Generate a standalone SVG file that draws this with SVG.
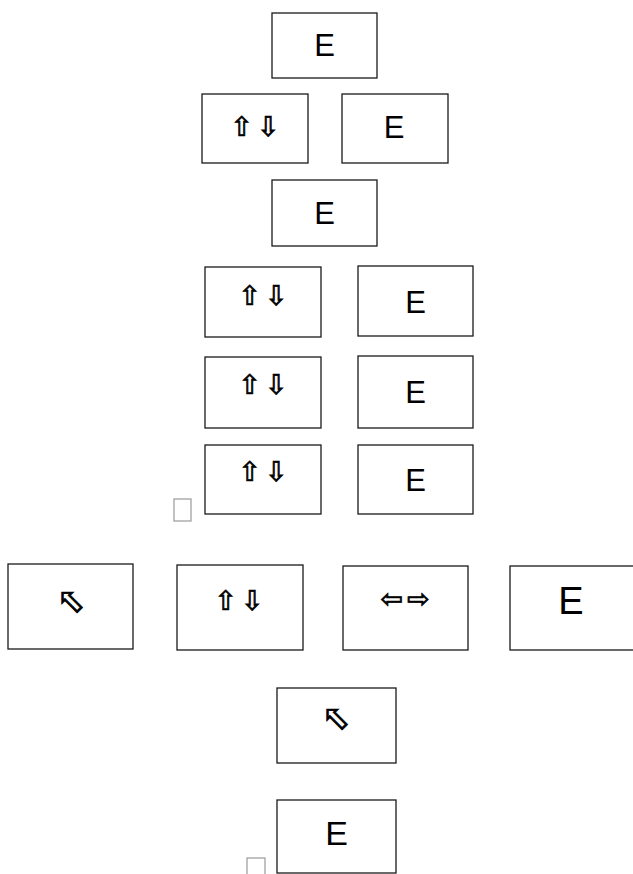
<svg xmlns="http://www.w3.org/2000/svg" width="633" height="874" viewBox="0 0 633 874">
<style>
.b{fill:#fff;stroke:#1a1a1a;stroke-width:1.3}
.e{font-family:"Liberation Sans",Arial,sans-serif;fill:#000;text-anchor:middle}
.a{font-family:"DejaVu Sans",sans-serif;fill:#000;stroke:#000;stroke-width:0.7;text-anchor:middle;font-size:27px;letter-spacing:4px}
.c{font-family:"DejaVu Sans",sans-serif;fill:#000;stroke:#000;stroke-width:0.8;text-anchor:middle;font-size:34px}
.s{fill:#fff;stroke:#999;stroke-width:1.2}
</style>
<rect width="633" height="874" fill="#fff"/>
<g id="n1"><rect class="b" x="272" y="13" width="105" height="65"/><text class="e" x="324.5" y="56" font-size="31">E</text></g>
<g id="n2"><rect class="b" x="202" y="94" width="106" height="69"/><text class="a" x="257" y="136">⇧⇩</text></g>
<g id="n3"><rect class="b" x="342" y="94" width="106" height="69"/><text class="e" x="394" y="138" font-size="31">E</text></g>
<g id="n4"><rect class="b" x="272" y="180" width="105" height="66"/><text class="e" x="324.5" y="224" font-size="31">E</text></g>
<g id="n5"><rect class="b" x="205" y="267" width="116" height="70"/><text class="a" x="265" y="305">⇧⇩</text></g>
<g id="n6"><rect class="b" x="358" y="266" width="115" height="70"/><text class="e" x="415.5" y="313" font-size="31">E</text></g>
<g id="n7"><rect class="b" x="205" y="357" width="116" height="71"/><text class="a" x="265" y="394">⇧⇩</text></g>
<g id="n8"><rect class="b" x="358" y="356" width="115" height="72"/><text class="e" x="415.5" y="403" font-size="31">E</text></g>
<g id="n9"><rect class="b" x="205" y="445" width="116" height="69"/><text class="a" x="265" y="481">⇧⇩</text></g>
<g id="n10"><rect class="b" x="358" y="445" width="115" height="69"/><text class="e" x="415.5" y="491" font-size="31">E</text></g>
<rect class="s" x="174" y="499" width="17" height="22"/>
<g id="n11"><rect class="b" x="8" y="564" width="125" height="85"/><text class="c" x="71" y="612">⬁</text></g>
<g id="n12"><rect class="b" x="177" y="565" width="126" height="85"/><text class="a" x="241" y="610" font-size="31">⇧⇩</text></g>
<g id="n13"><rect class="b" x="343" y="566" width="125" height="84"/><text class="a" x="407" y="608" font-size="30">⇦⇨</text></g>
<g id="n14"><rect class="b" x="510" y="566" width="125" height="84"/><text class="e" x="571" y="614" font-size="38">E</text></g>
<g id="n15"><rect class="b" x="277" y="688" width="119" height="75"/><text class="c" x="336" y="729">⬁</text></g>
<g id="n16"><rect class="b" x="277" y="800" width="119" height="73"/><text class="e" x="336.5" y="845" font-size="34">E</text></g>
<rect class="s" x="247" y="858" width="18" height="18"/>
<g id="connectors"></g>
</svg>
